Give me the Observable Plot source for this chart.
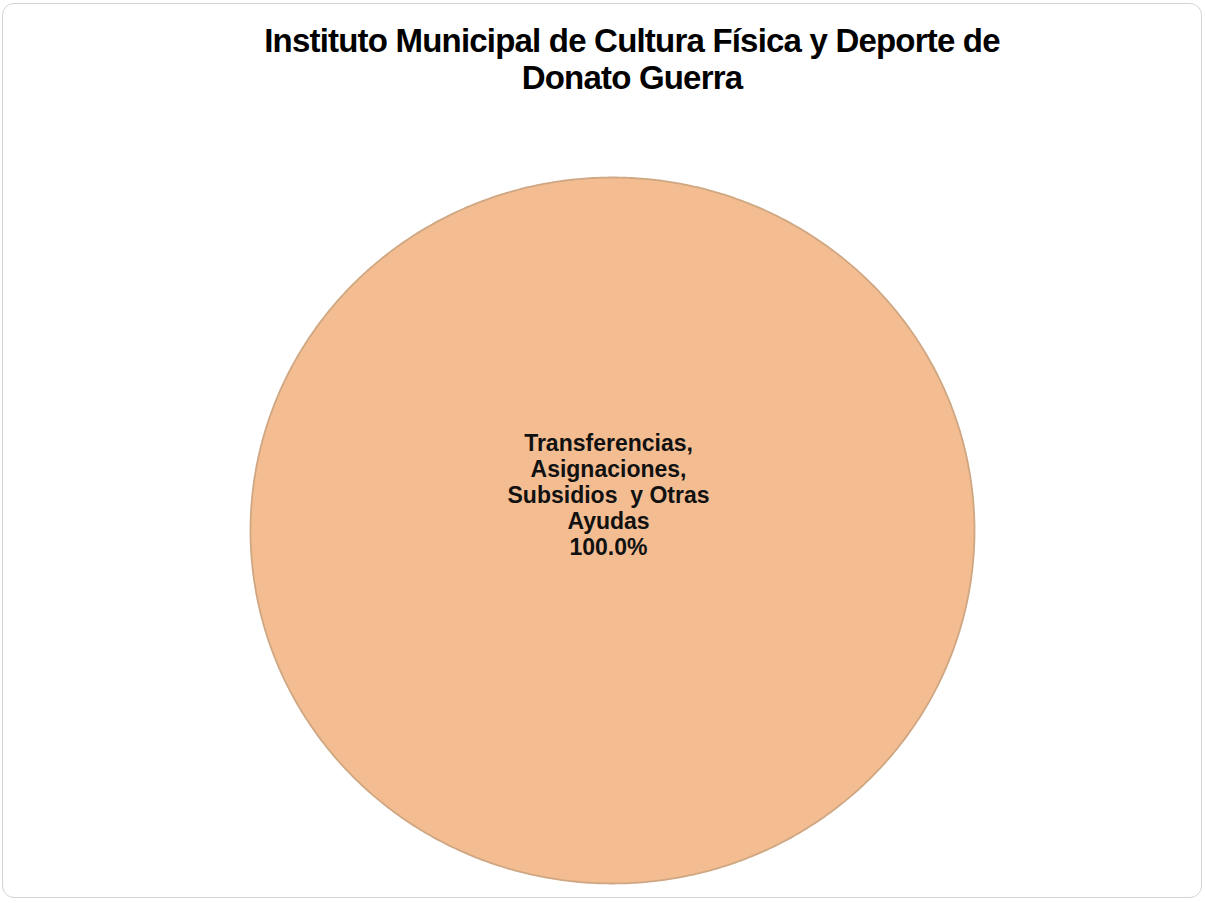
<!DOCTYPE html>
<html>
<head>
<meta charset="utf-8">
<script src="https://cdn.jsdelivr.net/npm/d3@7"></script>
<script src="https://cdn.jsdelivr.net/npm/@observablehq/plot@0.6"></script>
<style>
  html, body { margin: 0; padding: 0; background: #ffffff; }
  #frame {
    position: absolute; left: 2px; top: 3px; width: 1200px; height: 895px;
    border: 1px solid #d4d4d4; border-radius: 12px; box-sizing: border-box;
  }
  #title {
    position: absolute; left: 0; top: 22px; width: 1264px; text-align: center;
    font-family: "Liberation Sans", Arial, sans-serif; font-weight: bold;
    font-size: 33px; line-height: 37px; letter-spacing: -0.8px; color: #000;
  }
  #chart { position: absolute; left: 0; top: 120px; }
</style>
</head>
<body>
<div id="frame"></div>
<div id="title">Instituto Municipal de Cultura Física y Deporte de<br>Donato Guerra</div>
<div id="chart"></div>
<script>
const categories = ["Transferencias, Asignaciones, Subsidios y Otras Ayudas"];
const labelLines = ["Transferencias,\nAsignaciones,\nSubsidios  y Otras\nAyudas"];
const values = [100.0];
const colors = ["#F3BD91"];

const total = d3.sum(values);
const arcs = d3.pie().sort(null).value(d => d)(values);

// polygon points for each slice, from the pie angles
const slicePts = [];
const rimPts = [];
arcs.forEach((a, i) => {
  const full = (a.endAngle - a.startAngle) >= 2 * Math.PI - 1e-9;
  const n = Math.max(2, Math.ceil((a.endAngle - a.startAngle) / (2 * Math.PI) * 720));
  if (!full) slicePts.push({cat: categories[i], x: 0, y: 0});
  for (let k = 0; k <= n; k++) {
    const t = a.startAngle + (a.endAngle - a.startAngle) * k / n;
    const p = {cat: categories[i], x: Math.sin(t), y: Math.cos(t)};
    slicePts.push(p);
    rimPts.push(p);
  }
  if (!full) slicePts.push({cat: categories[i], x: 0, y: 0});
});

const labels = arcs.map((a, i) => {
  const full = (a.endAngle - a.startAngle) >= 2 * Math.PI - 1e-9;
  const mid = (a.startAngle + a.endAngle) / 2;
  const r = full ? 0 : 0.6;
  return {
    x: r * Math.sin(mid), y: r * Math.cos(mid),
    text: labelLines[i] + "\n" + (values[i] / total * 100).toFixed(1) + "%"
  };
});

const chart = Plot.plot({
  width: 1206,
  height: 783,
  marginLeft: 250,
  marginRight: 232,
  marginTop: 57,
  marginBottom: 20,
  x: {domain: [-1, 1], axis: null},
  y: {domain: [-1, 1], axis: null},
  color: {domain: categories, range: colors},
  style: {background: "transparent", overflow: "visible"},
  marks: [
    Plot.line(slicePts, {x: "x", y: "y", z: "cat", fill: "cat", stroke: "none", curve: "linear"}),
    Plot.line(rimPts, {x: "x", y: "y", z: "cat", stroke: "#cfa783", strokeWidth: 1.8, fill: "none", curve: "linear"}),
    Plot.text(labels, {
      x: "x", y: "y", text: "text", dx: -4, dy: -36,
      fontSize: 23, fontWeight: "bold", lineHeight: 1.13,
      fontFamily: "Liberation Sans, Arial, sans-serif", fill: "#111"
    })
  ]
});
document.getElementById("chart").appendChild(chart);
</script>
</body>
</html>
